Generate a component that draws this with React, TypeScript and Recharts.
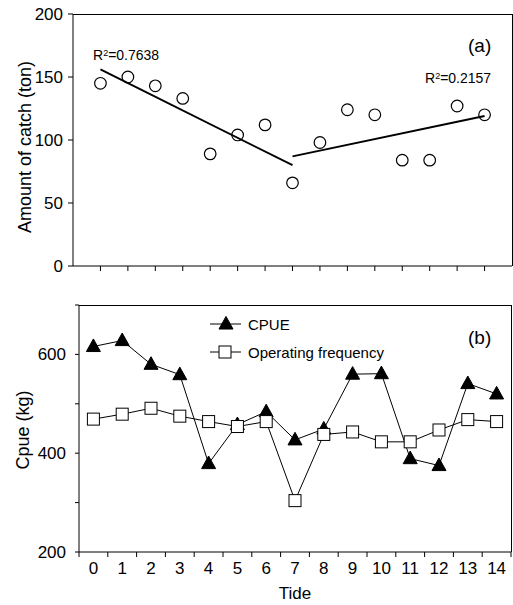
import React from 'react';
import { ComposedChart, Scatter, LineChart, Line, XAxis, YAxis } from 'recharts';

// tide index shared by both panels
const tides = [0, 1, 2, 3, 4, 5, 6, 7, 8, 9, 10, 11, 12, 13, 14];

// (a) amount of catch, ton
const catchAmt = [145, 150, 143, 133, 89, 104, 112, 66, 98, 124, 120, 84, 84, 127, 120];

// fitted lines (end points)
const trendEarly = [
  { x: 0, y: 156 },
  { x: 7, y: 80 },
];
const trendLate = [
  { x: 7, y: 87 },
  { x: 14, y: 119 },
];
const catchTicks = [0, 50, 100, 150, 200];

// (b) CPUE and operating frequency
const cpue = [616, 628, 580, 559, 379, 458, 484, 427, 449, 560, 561, 389, 375, 541, 520];
const opFreq = [469, 479, 491, 475, 464, 454, 464, 304, 438, 443, 423, 423, 447, 468, 464];
const cpueTicks = [200, 300, 400, 500, 600, 700];
const cpueLabels = [200, 400, 600];

const FONT = '"Liberation Sans", Arial, sans-serif';

const catchPoints = tides.map((t, i) => ({ x: t, y: catchAmt[i] }));
const panelB = tides.map((t, i) => ({ tide: t, cpue: cpue[i], op: opFreq[i] }));
const tideTicks = tides.flatMap((t) => [t - 0.5, t]).concat(14.5);

function OpenCircle(props: any) {
  const { cx, cy } = props;
  if (cx == null || cy == null) return <g />;
  return <circle cx={cx} cy={cy} r={5.8} fill="#fff" stroke="#000" strokeWidth={1.2} />;
}

function NoShape() {
  return <g />;
}

function Triangle({ cx, cy, size = 14 }: { cx: number; cy: number; size?: number }) {
  const h = size * 0.9;
  return (
    <polygon
      points={`${cx},${cy - h * 0.6} ${cx - size / 2},${cy + h * 0.4} ${cx + size / 2},${cy + h * 0.4}`}
      fill="#000"
      stroke="#000"
    />
  );
}

function Square({ cx, cy, size = 12 }: { cx: number; cy: number; size?: number }) {
  return (
    <rect x={cx - size / 2} y={cy - size / 2} width={size} height={size} fill="#fff" stroke="#000" strokeWidth={1} />
  );
}

function TideTick(props: any) {
  const { x, y, payload } = props;
  const v = payload.value;
  if (Number.isInteger(v)) {
    return (
      <text x={x} y={y + 16} dy="0.35em" textAnchor="middle" fontSize={17} fontFamily={FONT} fill="#000">
        {v}
      </text>
    );
  }
  return <line x1={x} y1={y} x2={x} y2={y + 5} stroke="#000" strokeWidth={1} />;
}

function BLegend() {
  const rows = [
    { name: 'CPUE', kind: 'tri' },
    { name: 'Operating frequency', kind: 'sq' },
  ];
  return (
    <div style={{ fontFamily: FONT, fontSize: 15, color: '#000' }}>
      {rows.map((r) => (
        <div key={r.name} style={{ display: 'flex', alignItems: 'center', height: 28 }}>
          <svg width={36} height={20} style={{ flexShrink: 0 }}>
            <line x1={0} y1={10} x2={31} y2={10} stroke="#000" strokeWidth={1} />
            {r.kind === 'tri' ? <Triangle cx={16} cy={10} /> : <Square cx={15} cy={10} />}
          </svg>
          <span style={{ marginLeft: 2 }}>{r.name}</span>
        </div>
      ))}
    </div>
  );
}

const abs = (left: number, top: number, extra: React.CSSProperties = {}): React.CSSProperties => ({
  position: 'absolute',
  left,
  top,
  fontFamily: FONT,
  color: '#000',
  whiteSpace: 'nowrap',
  lineHeight: 1,
  ...extra,
});

// top and right edges of a plot box
const frame = (left: number, top: number, width: number, height: number): React.CSSProperties => ({
  position: 'absolute',
  left,
  top,
  width,
  height,
  boxSizing: 'border-box',
  borderTop: '1px solid #000',
  borderRight: '1px solid #000',
  pointerEvents: 'none',
  zIndex: 5,
});

export default function App() {
  return (
    <div style={{ position: 'absolute', left: 0, top: 0, width: 513, height: 605, background: '#fff' }}>
      {/* panel (a) */}
      <div style={{ position: 'absolute', left: 0, top: 0 }}>
        <ComposedChart width={513} height={290} margin={{ top: 14, right: 1, bottom: 0, left: 0 }}>
          <XAxis
            type="number"
            dataKey="x"
            domain={[-1, 15]}
            ticks={tides}
            tickFormatter={() => ''}
            tickSize={5}
            height={24}
            stroke="#000"
            allowDataOverflow
          />
          <YAxis
            type="number"
            dataKey="y"
            domain={[0, 200]}
            ticks={catchTicks}
            width={73}
            tickSize={5}
            tickMargin={5}
            stroke="#000"
            tick={{ fill: '#000', fontSize: 17, fontFamily: FONT }}
          />
          <Scatter data={catchPoints} shape={OpenCircle} isAnimationActive={false} />
          <Scatter data={trendEarly} line={{ stroke: '#000', strokeWidth: 2 }} shape={NoShape} isAnimationActive={false} />
          <Scatter data={trendLate} line={{ stroke: '#000', strokeWidth: 2 }} shape={NoShape} isAnimationActive={false} />
        </ComposedChart>
      </div>

      {/* panel (b) */}
      <div style={{ position: 'absolute', left: 0, top: 290 }}>
        <LineChart width={513} height={315} data={panelB} margin={{ top: 15, right: 2, bottom: 0, left: 0 }}>
          <XAxis
            type="number"
            dataKey="tide"
            domain={[-0.5, 14.5]}
            ticks={tideTicks}
            interval={0}
            tick={TideTick}
            tickLine={false}
            tickSize={0}
            tickMargin={0}
            height={53}
            stroke="#000"
          />
          <YAxis
            domain={[200, 700]}
            ticks={cpueTicks}
            interval={0}
            tickFormatter={(v: number) => (cpueLabels.includes(v) ? String(v) : '')}
            width={79}
            tickSize={4}
            tickMargin={9}
            stroke="#000"
            tick={{ fill: '#000', fontSize: 17, fontFamily: FONT }}
          />
          <Line
            dataKey="cpue"
            name="CPUE"
            stroke="#000"
            strokeWidth={1}
            dot={(p: any) => <Triangle key={`t${p.index}`} cx={p.cx} cy={p.cy} />}
            activeDot={false}
            isAnimationActive={false}
          />
          <Line
            dataKey="op"
            name="Operating frequency"
            stroke="#000"
            strokeWidth={1}
            dot={(p: any) => <Square key={`s${p.index}`} cx={p.cx} cy={p.cy} />}
            activeDot={false}
            isAnimationActive={false}
          />
        </LineChart>
      </div>

      <div style={frame(73, 14, 440, 252)} />
      <div style={frame(79, 305, 433, 247)} />

      {/* legend, annotations and axis titles */}
      <div style={abs(210, 310)}>
        <BLegend />
      </div>
      <div style={abs(93, 48, { fontSize: 14 })}>
        R<sup style={{ fontSize: 9, verticalAlign: 4 }}>2</sup>=0.7638
      </div>
      <div style={abs(425, 71, { fontSize: 14 })}>
        R<sup style={{ fontSize: 9, verticalAlign: 4 }}>2</sup>=0.2157
      </div>
      <div style={abs(468, 36, { fontSize: 19 })}>(a)</div>
      <div style={abs(468, 328, { fontSize: 19 })}>(b)</div>
      <div style={abs(25, 147, { fontSize: 18, transform: 'translate(-50%, -50%) rotate(-90deg)' })}>
        Amount of catch (ton)
      </div>
      <div style={abs(23, 430, { fontSize: 18, transform: 'translate(-50%, -50%) rotate(-90deg)' })}>Cpue (kg)</div>
      <div style={abs(295, 593, { fontSize: 17, transform: 'translate(-50%, -50%)' })}>Tide</div>
    </div>
  );
}
